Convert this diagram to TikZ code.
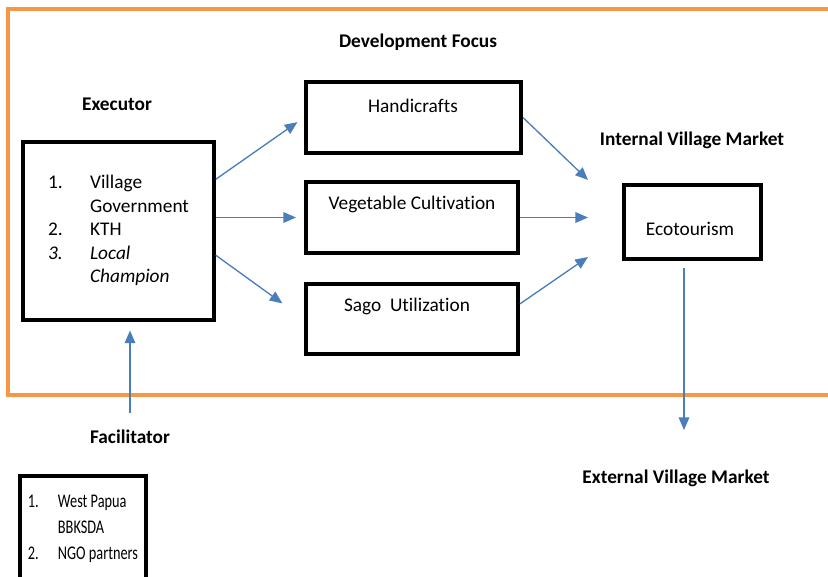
\documentclass[tikz,border=0pt]{standalone}
\usepackage{fontspec}
\setmainfont[Ligatures=NoCommon]{Carlito}
\newfontfamily\narrowfont[FakeStretch=0.74,Ligatures=NoCommon]{Carlito}
\usetikzlibrary{shapes,positioning,calc}
\usetikzlibrary{arrows.meta}
\definecolor{wordblue}{RGB}{74,126,187}
\definecolor{wordorange}{RGB}{247,150,70}
\tikzstyle{block} = [rectangle, draw=black, line width=3pt, inner sep=0pt]
\tikzstyle{heading} = [font=\fontsize{14.5}{17.6}\selectfont\bfseries]
\tikzstyle{arrow} = [wordblue, line width=1pt, -{Triangle[length=9.5pt,width=8pt]}]

\begin{document}
\begin{tikzpicture}[x=0.75pt,y=-0.75pt,font=\fontsize{14.5}{17.6}\selectfont]
\useasboundingbox (0,0) rectangle (828,576);
\clip (0,0) rectangle (828,576);
% frame of the village
\draw[wordorange, line width=2.6pt] (8,9) rectangle (860,395);
% headings
\node at (418,42) [heading] (devfocus) {Development Focus};
\node at (117,104) [heading] (executor) {Executor};
\node at (692,140) [heading] (internal) {Internal Village Market};
\node at (130,437) [heading] (facil) {Facilitator};
\node at (676,478) [heading] (external) {External Village Market};
% boxes
\node at (118.5,231) [block, minimum width=143pt, minimum height=133.5pt] (exec)
	{\begin{tabular}{@{}p{31.5pt}@{}l@{}}
	1. & Village\\
	   & Government\\
	2. & KTH\\
	\textit{3.} & \textit{Local}\\
	   & \textit{Champion}
	\end{tabular}};
\node at (413.5,117.5) [block, minimum width=161.25pt, minimum height=53.25pt] (hand) {};
\node at (412,217.5) [block, minimum width=159pt, minimum height=53.25pt] (veg) {};
\node at (412,319) [block, minimum width=159pt, minimum height=52.5pt] (sago) {};
\node at (692.5,222) [block, minimum width=102.75pt, minimum height=55.5pt] (eco) {};
\node at (83,528) [block, minimum width=94.5pt, minimum height=78pt] (fac)
	{\narrowfont\fontsize{14.5}{19.5}\selectfont
	\begin{tabular}{@{}p{22.5pt}@{}l@{}}
	1. & West Papua\\
	   & BBKSDA\\
	2. & NGO partners
	\end{tabular}};
% texts in the boxes
\node at (413,106) (handtxt) {Handicrafts};
\node at (412,204) (vegtxt) {Vegetable Cultivation};
\node at (407,306) (sagotxt) {Sago\ \ Utilization};
\node at (690,229) (ecotxt) {Ecotourism};
% arrow ends
\coordinate (in1) at (588,180);
\coordinate (in2) at (588,217.5);
\coordinate (in3) at (588,257);
\coordinate (ext) at (684,430);
% arrows
\draw[arrow, shorten >=6pt] (exec.28) -- (hand.west);
\draw[arrow, shorten >=6pt] (exec.east |- veg.west) -- (veg.west);
\draw[arrow, shorten >=20pt] (exec.-14) -- (sago.west);
\draw[arrow] (hand.east) -- (in1);
\draw[arrow] (veg.east) -- (in2);
\draw[arrow] (sago.8) -- (in3);
\draw[arrow, shorten <=5.6pt] (eco.south -| ext) -- (ext);
\draw[arrow, shorten <=9pt, shorten >=6.4pt] (facil.north) -- (facil.north |- exec.south);
\end{tikzpicture}
\end{document}
